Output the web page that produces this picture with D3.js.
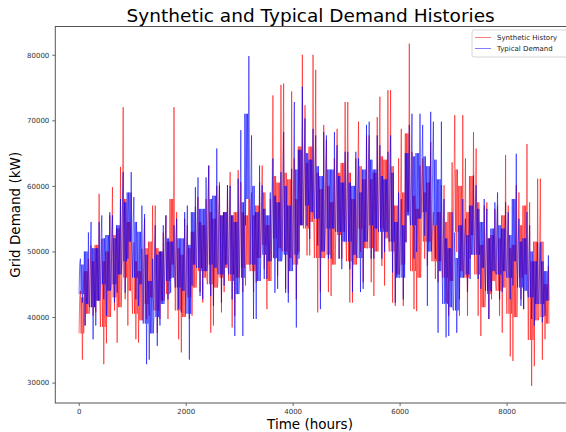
<!DOCTYPE html>
<html>
<head>
<meta charset="utf-8">
<script src="https://cdn.jsdelivr.net/npm/d3@7"></script>
<style>
  body { margin: 0; background: #fff; }
  svg { display: block; font-family: "DejaVu Sans", sans-serif; }
</style>
</head>
<body>
<svg id="chart" width="566" height="432"></svg>
<script>
// hourly demand, summarised per 100-hour block:
// the block's spike high / spike low and the top / bottom of its dense core
var blockHours = 100;
var synHi = [44000,48900,50900,58800,51900,55500,59800,62900,72000,59000,
             51400,50400,55000,57000,57000,52900,55500,72000,56000,55000,
             54000,56800,58300,58000,63100,60000,60600,60100,62100,62400,
             60600,58000,59000,60600,63100,58000,73800,75400,75600,74400,
             64200,80000,72300,80000,77700,69300,67000,64200,68700,72800,
             72800,64200,69800,67700,67700,70500,73600,74600,74600,64200,
             68700,81700,65200,63100,64200,66700,56000,60100,60100,63600,
             70800,70800,64200,68200,65700,57000,57500,56500,57000,64700,
             57000,60100,59000,66400,57500,61100,61100,47800];
var synLo = [33500,38700,40200,40700,32800,36000,41000,36100,42700,38700,
             36600,36100,39700,40200,37600,39700,39700,45800,36600,34600,
             39700,40200,43800,42200,37600,38700,40700,43800,38400,40200,
             43800,44800,43800,45300,47300,41200,48900,46300,44300,43700,
             42700,49900,49400,49400,40700,43800,43800,43200,48900,48900,
             42200,42200,49900,45300,45300,43200,47800,44800,42200,41700,
             41700,51400,41200,40900,48900,47800,45800,45300,42200,40200,
             49900,40200,40200,48900,40200,37100,39700,42700,40200,37600,
             34000,33300,42700,41200,29500,32500,33500,36600];
var synCoreHi = [43000,47000,48500,51000,48500,50000,52500,53500,58000,54500,
                 48500,47000,50500,51500,50500,50000,51500,58000,50500,49500,
                 50500,53000,54500,54000,56000,55000,55500,56000,55500,56000,
                 56000,55500,55500,57000,59000,54000,61500,60500,62000,61000,
                 58000,66000,63500,66000,62000,59500,60000,57500,62000,63500,
                 62000,58000,63000,61000,61000,62000,64500,64000,63000,57000,
                 59000,68000,58500,56500,59000,60500,54000,56000,54500,56000,
                 62500,60000,56000,61500,57500,51000,52000,52500,52000,55500,
                 50500,51000,54000,57000,48500,51500,51500,45000];
var synCoreLo = [37500,40500,41500,42500,38500,40000,43000,41500,46000,44000,
                 40500,39500,42000,43000,41000,42500,43500,48000,41000,40000,
                 43000,44500,47000,46000,45000,44500,46000,47500,45500,46000,
                 47500,48000,47000,49000,51000,45500,52000,50500,50000,49000,
                 48000,54000,53500,54500,49000,49000,49500,48000,52500,53000,
                 48500,48000,53500,50500,50500,50000,53500,52000,50000,46500,
                 48000,56000,47000,46000,51500,51500,48500,48500,46000,45500,
                 53000,47000,46000,52500,46500,41500,43500,45500,44000,44500,
                 40500,40000,46000,46500,36500,39500,40000,39000];
var typHi = [48900,52900,54500,54500,55500,56000,55500,58000,62100,62100,
             58300,57000,55700,48900,54000,54000,55500,54000,55000,56000,
             57000,59800,61300,61300,63100,65700,60100,60100,60000,61100,
             68500,79800,67700,63100,60100,59000,64200,62100,68200,62600,
             72800,75100,70300,68700,67700,68200,67700,68200,66200,65200,
             65200,65200,64200,69300,69800,67700,66200,65200,67700,59000,
             58000,69300,71000,71000,69300,71300,69800,69800,58000,56000,
             52900,58000,55000,61600,60100,58000,56500,57500,59000,57500,
             56000,64900,55000,56000,54000,51400,51400,49400];
var typLo = [42200,38700,36600,38700,42700,40200,42200,43700,43700,48900,
             42700,41700,32800,33500,35600,38700,42700,43700,41200,40700,
             33500,44800,43200,42700,43200,41700,42200,44800,42700,37100,
             37100,54000,39700,39700,45800,45800,43700,44300,43700,42200,
             38400,48900,53900,51900,50900,41200,48900,48900,48900,47300,
             47300,43800,43800,44300,48900,48900,48900,49900,46800,42200,
             42700,51400,48900,49900,52400,41700,48900,37600,36900,37100,
             37600,42700,43800,45800,45800,44300,39700,43800,42700,43800,
             42700,44800,41700,41200,39700,38700,39200,40200];
var typCoreHi = [48000,50000,50500,50500,52000,52500,52000,54000,57500,59000,
                 54500,53000,49500,45500,49500,50000,52000,51500,52000,52000,
                 51000,56000,56500,56500,58000,58500,55500,56000,55500,54500,
                 57500,71000,60000,56000,56500,55500,58500,57500,60000,57000,
                 62500,65500,65000,64000,63000,61500,62500,62500,61500,60500,
                 60500,60000,59000,62500,64000,62500,61500,61000,62000,54500,
                 54000,65000,64500,65000,64500,63000,64000,61000,52000,50500,
                 49000,54000,52500,57000,56500,54500,52000,53500,54000,53500,
                 52500,58000,51500,52000,50000,48500,48500,47000];
var typCoreLo = [43500,42000,41500,42500,45000,44000,45000,46500,48500,51500,
                 46000,45000,39000,37500,40000,42000,45500,46000,44500,44000,
                 40500,48000,47500,47000,48000,47500,46500,48000,46500,43500,
                 46000,58000,48000,45500,49500,48500,49000,48500,49500,47000,
                 49500,54000,57000,56000,55000,50000,53500,53500,53000,51500,
                 51500,49500,49000,51500,54000,53500,53000,53000,51500,46000,
                 46000,55500,54000,55000,56000,50000,54000,47000,42000,41500,
                 41000,46000,46500,49500,49500,47500,44000,47000,46500,47000,
                 46000,48500,44500,44000,43000,42000,42000,42500];
var xTicks = [0, 2000, 4000, 6000, 8000];
var yTicks = [30000, 40000, 50000, 60000, 70000, 80000];

var series = [
  {name: "Synthetic History", color: "#ff0000", hi: synHi, lo: synLo, cHi: synCoreHi, cLo: synCoreLo},
  {name: "Typical Demand", color: "#0000ff", hi: typHi, lo: typLo, cHi: typCoreHi, cLo: typCoreLo}
];

// walk each block: mostly back and forth across its core, one trip to the high and one to the low
function points(s) {
  var pts = [];
  s.hi.forEach(function(h, i) {
    var t0 = i * blockHours;
    var a = s.cLo[i], b = s.cHi[i];
    var seq = (i % 2 === 0)
      ? [a, b, h, a, b, s.lo[i], b, a]
      : [b, s.lo[i], b, a, b, a, h, a];
    seq.forEach(function(v, k) {
      pts.push([t0 + 6.25 + k * 12.5, v]);
    });
  });
  return pts;
}

var svg = d3.select("#chart");
var pLeft = 55.3, pRight = 570.6, pTop = 26.5, pBottom = 403;

var lastHour = 8759;
var x = d3.scaleLinear()
  .domain([-0.05 * lastHour, lastHour * 1.05])
  .range([pLeft, pRight]);

var allVals = synHi.concat(synLo, typHi, typLo);
var yMin = d3.min(allVals), yMax = d3.max(allVals), pad = (yMax - yMin) * 0.05;
var y = d3.scaleLinear()
  .domain([yMin - pad, yMax + pad])
  .range([pBottom, pTop]);

var line = d3.line()
  .x(function(d) { return x(d[0]); })
  .y(function(d) { return y(d[1]); });

var plot = svg.append("g");
plot.append("defs").append("clipPath").attr("id", "clip")
  .append("rect").attr("x", pLeft).attr("y", pTop).attr("width", pRight - pLeft).attr("height", pBottom - pTop);

series.forEach(function(s) {
  plot.append("path")
    .attr("clip-path", "url(#clip)")
    .attr("d", line(points(s)))
    .attr("fill", "none")
    .attr("stroke", s.color)
    .attr("stroke-opacity", 0.7)
    .attr("stroke-width", 0.8);
});

// axes
var xAxis = d3.axisBottom(x).tickValues(xTicks).tickSize(3).tickPadding(3).tickFormat(d3.format("d"));
var yAxis = d3.axisLeft(y).tickValues(yTicks).tickSize(3).tickPadding(3).tickFormat(d3.format("d"));

var gx = svg.append("g").attr("transform", "translate(0," + pBottom + ")").call(xAxis);
var gy = svg.append("g").attr("transform", "translate(" + pLeft + ",0)").call(yAxis);
[gx, gy].forEach(function(g) {
  g.select(".domain").remove();
  g.selectAll(".tick line").attr("stroke", "#444").attr("stroke-width", 0.8);
  g.selectAll(".tick text").attr("fill", "#333").style("font-size", "7px")
    .style("font-family", "DejaVu Sans, sans-serif");
});

// frame
svg.append("rect")
  .attr("x", pLeft).attr("y", pTop)
  .attr("width", pRight - pLeft).attr("height", pBottom - pTop)
  .attr("fill", "none").attr("stroke", "#555").attr("stroke-width", 1);

// titles
svg.append("text")
  .attr("x", (pLeft + 566) / 2).attr("y", 22)
  .attr("text-anchor", "middle")
  .style("font-size", "18.5px")
  .text("Synthetic and Typical Demand Histories");

svg.append("text")
  .attr("x", 310).attr("y", 429)
  .attr("text-anchor", "middle")
  .style("font-size", "13.5px")
  .text("Time (hours)");

svg.append("text")
  .attr("transform", "translate(20," + ((pTop + pBottom) / 2) + ") rotate(-90)")
  .attr("text-anchor", "middle")
  .style("font-size", "13.5px")
  .text("Grid Demand (kW)");

// legend
var lg = svg.append("g").attr("transform", "translate(472,30)");
lg.append("rect")
  .attr("width", 100).attr("height", 27).attr("rx", 2)
  .attr("fill", "#fff").attr("fill-opacity", 0.8)
  .attr("stroke", "#ccc").attr("stroke-width", 0.8);
series.forEach(function(s, i) {
  var yy = 7.5 + i * 11;
  lg.append("line")
    .attr("x1", 3).attr("x2", 19).attr("y1", yy).attr("y2", yy)
    .attr("stroke", s.color).attr("stroke-opacity", 0.5).attr("stroke-width", 1);
  lg.append("text")
    .attr("x", 25).attr("y", yy).attr("dy", "0.35em")
    .style("font-size", "7px").attr("fill", "#222")
    .text(s.name);
});
</script>
</body>
</html>
